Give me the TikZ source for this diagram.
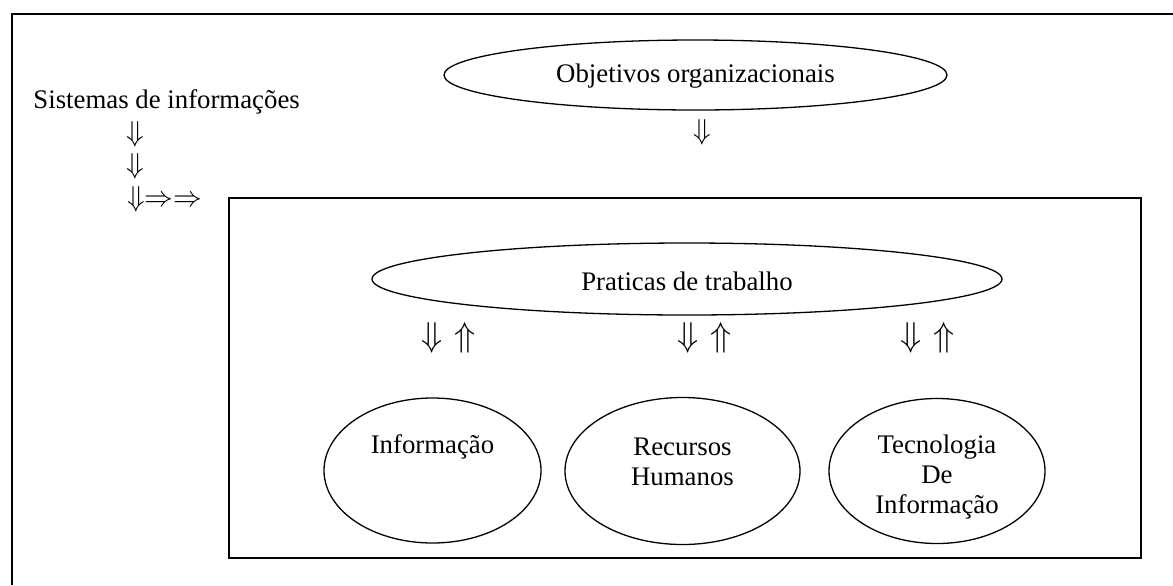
\documentclass[tikz,border=0pt]{standalone}
\usepackage{fontspec}
\setmainfont{Liberation Serif}
\usepackage{tikz}
\usetikzlibrary{shapes.geometric}
\usetikzlibrary{positioning}
\tikzset{oval/.style = {draw, ellipse, line width=0.65pt, inner sep=0}}
\tikzset{txt/.style = {inner sep=0, align=center,
                       font=\fontsize{13.4}{15.2}\selectfont}}
\tikzset{bigarr/.style = {inner sep=0, font=\fontsize{16.5}{18}\selectfont}}
\tikzset{frame/.style = {line width=1pt}}
\newcommand{\updown}{$\Downarrow\hspace{6pt}\Uparrow$}

\begin{document}
\begin{tikzpicture}[x=0.5pt, y=-0.5pt]
    \useasboundingbox (0,0) rectangle (1173,585);
    \draw [frame] (1173,14) -- (12,14) -- (12,585);
    \draw [frame] (229,198) rectangle (1141,558);

    \node [oval, minimum width=251.5pt, minimum height=35pt] (objetivos) at (695.5,75) {};
    \node [txt] (objtxt) at (695.5,76) {Objetivos organizacionais};
    \node [txt] (objarrow) at (702,132) {$\Downarrow$};

    \node [txt, anchor=west] (sistemas) at (33,102) {Sistemas de informações};
    \node [txt] (sisarrow1) at (135.5,134) {$\Downarrow$};
    \node [txt] (sisarrow2) at (135.5,166) {$\Downarrow$};
    \node [txt, anchor=west] (sisarrow3) at (127,199) {$\Downarrow\Rightarrow\Rightarrow$};

    \node [oval, minimum width=315pt, minimum height=36pt] (praticas) at (687,279) {};
    \node [txt] (prattxt) at (687,281) {Praticas de trabalho};

    \node [bigarr] (pair1) at (448.5,337.5) {\updown};
    \node [bigarr] (pair2) at (705,337.5) {\updown};
    \node [bigarr] (pair3) at (928,337.5) {\updown};

    \node [oval, minimum width=108.5pt, minimum height=72.5pt] (info) at (432.5,470.5) {};
    \node [txt] (infotxt) at (432.5,447) {Informação};
    \node [oval, minimum width=117.5pt, minimum height=73.5pt] (recursos) at (682.5,471) {};
    \node [txt] (rectxt) at (682.5,462) {Recursos\\Humanos};
    \node [oval, minimum width=108pt, minimum height=72.5pt] (tecnologia) at (937,471) {};
    \node [txt] (tectxt) at (937,477) {Tecnologia\\De\\Informação};
\end{tikzpicture}
\end{document}
